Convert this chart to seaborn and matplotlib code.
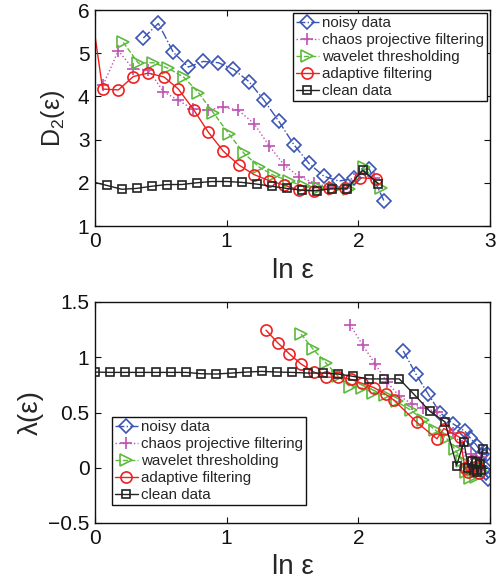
import matplotlib
matplotlib.use("Agg")
import matplotlib.pyplot as plt
from matplotlib.ticker import FuncFormatter, FixedLocator
import seaborn as sns

# ---------------- correlation dimension D2 vs ln(eps) ----------------
noisy_top_x = [0.367, 0.481, 0.595, 0.709, 0.823, 0.937, 1.051, 1.170, 1.284,
               1.397, 1.511, 1.625, 1.739, 1.853, 1.967, 2.081, 2.195]
noisy_top_y = [5.35, 5.69, 5.02, 4.68, 4.81, 4.78, 4.63, 4.34, 3.91,
               3.42, 2.88, 2.45, 2.15, 2.04, 2.10, 2.33, 1.58]

chaos_top_x = [0.063, 0.177, 0.291, 0.405, 0.519, 0.633, 0.747, 0.861, 0.975,
               1.089, 1.208, 1.322, 1.435, 1.549, 1.663, 1.777, 1.891, 2.005, 2.119]
chaos_top_y = [4.27, 5.06, 4.63, 4.62, 4.11, 3.91, 3.70, 3.69, 3.75,
               3.68, 3.37, 2.86, 2.42, 2.14, 2.00, 1.90, 1.88, 2.20, 2.12]

wavelet_top_x = [0.215, 0.329, 0.443, 0.557, 0.676, 0.785, 0.899, 1.020, 1.132,
                 1.248, 1.359, 1.473, 1.587, 1.701, 1.815, 1.929, 2.043, 2.170]
wavelet_top_y = [5.25, 4.77, 4.78, 4.65, 4.44, 4.09, 3.62, 3.12, 2.68,
                 2.36, 2.17, 2.04, 1.92, 1.88, 1.86, 1.85, 2.36, 1.88]

adaptive_top_x = [-0.056, 0.058, 0.177, 0.291, 0.405, 0.524, 0.633, 0.752, 0.861,
                  0.975, 1.094, 1.208, 1.322, 1.435, 1.549, 1.663, 1.777, 1.899,
                  2.013, 2.132]
adaptive_top_y = [6.60, 4.17, 4.15, 4.46, 4.54, 4.45, 4.17, 3.68, 3.17,
                  2.73, 2.41, 2.19, 2.05, 1.95, 1.83, 1.81, 1.87, 1.88,
                  2.12, 2.09]

clean_top_x = [-0.030, 0.089, 0.203, 0.316, 0.430, 0.544, 0.658, 0.772, 0.886,
               1.000, 1.114, 1.228, 1.342, 1.456, 1.570, 1.684, 1.797, 1.911,
               2.033, 2.152]
clean_top_y = [2.03, 1.94, 1.85, 1.87, 1.92, 1.96, 1.96, 2.00, 2.03,
               2.03, 2.01, 1.97, 1.92, 1.87, 1.83, 1.82, 1.86, 1.86,
               2.29, 1.98]

# ---------------- largest Lyapunov exponent vs ln(eps) ----------------
noisy_bot_x = [2.342, 2.438, 2.532, 2.620, 2.716, 2.810, 2.850, 2.900, 2.940,
               2.975, 2.960, 2.985, 2.970]
noisy_bot_y = [1.056, 0.847, 0.664, 0.500, 0.400, 0.330, 0.270, 0.200, 0.120,
               0.120, 0.000, -0.100, -0.050]

chaos_bot_x = [1.937, 2.033, 2.127, 2.215, 2.310, 2.405, 2.493, 2.600, 2.720,
               2.790, 2.830, 2.855, 2.875, 2.895, 2.915, 2.935]
chaos_bot_y = [1.295, 1.110, 0.940, 0.780, 0.650, 0.580, 0.540, 0.505, 0.310,
               0.200, 0.020, 0.120, -0.020, 0.080, 0.000, 0.100]

wavelet_bot_x = [1.565, 1.655, 1.752, 1.845, 1.935, 2.030, 2.115, 2.205, 2.290,
                 2.400, 2.494, 2.580, 2.670, 2.734, 2.790, 2.820, 2.847, 2.870,
                 2.890, 2.910, 2.930]
wavelet_bot_y = [1.210, 1.075, 0.950, 0.830, 0.735, 0.720, 0.680, 0.660, 0.600,
                 0.520, 0.430, 0.345, 0.265, 0.167, 0.060, -0.040, -0.093, -0.020,
                 -0.080, 0.040, -0.030]

adaptive_bot_x = [1.299, 1.387, 1.476, 1.565, 1.663, 1.752, 1.848, 1.942, 2.025,
                  2.119, 2.208, 2.271, 2.442, 2.597, 2.650, 2.770, 2.810, 2.835,
                  2.860, 2.880, 2.900, 2.920]
adaptive_bot_y = [1.245, 1.132, 1.031, 0.939, 0.866, 0.820, 0.820, 0.800, 0.765,
                  0.725, 0.664, 0.611, 0.413, 0.262, 0.355, 0.275, 0.000, -0.040,
                  0.060, -0.030, 0.020, -0.050]

clean_bot_x = [0.000, 0.114, 0.228, 0.342, 0.461, 0.577, 0.691, 0.805, 0.919,
               1.038, 1.152, 1.266, 1.384, 1.498, 1.615, 1.734, 1.848, 1.961,
               2.080, 2.194, 2.311, 2.423, 2.544, 2.658, 2.746, 2.802, 2.835,
               2.860, 2.875, 2.890, 2.905, 2.925, 2.944, 2.930]
clean_bot_y = [0.866, 0.863, 0.863, 0.863, 0.863, 0.863, 0.863, 0.851, 0.848,
               0.857, 0.866, 0.872, 0.866, 0.863, 0.857, 0.857, 0.848, 0.827,
               0.804, 0.804, 0.804, 0.664, 0.510, 0.415, 0.020, 0.234, 0.000,
               0.060, -0.020, 0.050, -0.040, 0.030, 0.170, -0.020]

labels = ["noisy data", "chaos projective filtering", "wavelet thresholding",
          "adaptive filtering", "clean data"]
x_ticks = [0, 1, 2, 3]
top_y_ticks = [1, 2, 3, 4, 5, 6]
bot_y_ticks = [-0.5, 0, 0.5, 1, 1.5]

sns.set_style("ticks")
plt.rcParams["font.family"] = ["Liberation Sans", "DejaVu Sans"]
plt.rcParams["mathtext.fontset"] = "custom"
plt.rcParams["mathtext.rm"] = "Liberation Sans"
plt.rcParams["axes.unicode_minus"] = True

styles = [
    dict(color="#3a55b4", linestyle="-.", marker="D", markersize=7),
    dict(color="#c052b4", linestyle=":", marker="+", markersize=9),
    dict(color="#5cba3c", linestyle="--", marker=">", markersize=8),
    dict(color="#ee2020", linestyle="-", marker="o", markersize=8),
    dict(color="#222222", linestyle="-", marker="s", markersize=6),
]

fig = plt.figure(figsize=(5.02, 5.79), dpi=100)
ax_top = fig.add_axes([95 / 502, 1 - 226 / 579, 395 / 502, 216 / 579])
ax_bot = fig.add_axes([95 / 502, 1 - 523 / 579, 395 / 502, 221 / 579])


def draw(ax, series):
    for (xs, ys), st, lab in zip(series, styles, labels):
        sns.lineplot(x=xs, y=ys, ax=ax, sort=False, estimator=None,
                     color=st["color"], linestyle=st["linestyle"],
                     linewidth=1.0, marker=st["marker"],
                     markersize=st["markersize"], markerfacecolor="none",
                     markeredgecolor=st["color"], markeredgewidth=1.2,
                     label=lab)


def fmt(v, _):
    return f"{v:g}".replace("-", "\u2212")


def style_axes(ax, ylim, yticks):
    ax.set_xlim(0, 3)
    ax.set_ylim(*ylim)
    ax.xaxis.set_major_locator(FixedLocator(x_ticks))
    ax.yaxis.set_major_locator(FixedLocator(yticks))
    ax.xaxis.set_major_formatter(FuncFormatter(fmt))
    ax.yaxis.set_major_formatter(FuncFormatter(fmt))
    ax.tick_params(direction="in", length=4, width=0.8, top=True, right=True,
                   labelsize=15, colors="#111111", pad=4)
    for sp in ax.spines.values():
        sp.set_visible(True)
        sp.set_linewidth(1.0)
        sp.set_color("#111111")
    ax.set_xlabel("ln ε", fontsize=20, labelpad=5)


draw(ax_top, [(noisy_top_x, noisy_top_y), (chaos_top_x, chaos_top_y),
              (wavelet_top_x, wavelet_top_y), (adaptive_top_x, adaptive_top_y),
              (clean_top_x, clean_top_y)])
draw(ax_bot, [(noisy_bot_x, noisy_bot_y), (chaos_bot_x, chaos_bot_y),
              (wavelet_bot_x, wavelet_bot_y), (adaptive_bot_x, adaptive_bot_y),
              (clean_bot_x, clean_bot_y)])

style_axes(ax_top, (1, 6), top_y_ticks)
style_axes(ax_bot, (-0.5, 1.5), bot_y_ticks)
ax_top.set_ylabel(r"D$_\mathregular{2}$(ε)", fontsize=18)
ax_bot.set_ylabel("λ(ε)", fontsize=20)
ax_top.yaxis.set_label_coords(-0.072, 0.5)
ax_bot.yaxis.set_label_coords(-0.130, 0.5)

leg_kw = dict(fontsize=10.9, frameon=True, fancybox=False, framealpha=1,
              edgecolor="#111111", handlelength=1.55, handletextpad=0.2,
              labelspacing=0.2, borderpad=0.2, borderaxespad=0)
lt = ax_top.legend(loc="upper right", bbox_to_anchor=(0.993, 0.986), **leg_kw)
lb = ax_bot.legend(loc="lower left", bbox_to_anchor=(0.042, 0.08), **leg_kw)
for lg in (lt, lb):
    lg.get_frame().set_linewidth(1.0)

fig.savefig("out.png", dpi=100)
